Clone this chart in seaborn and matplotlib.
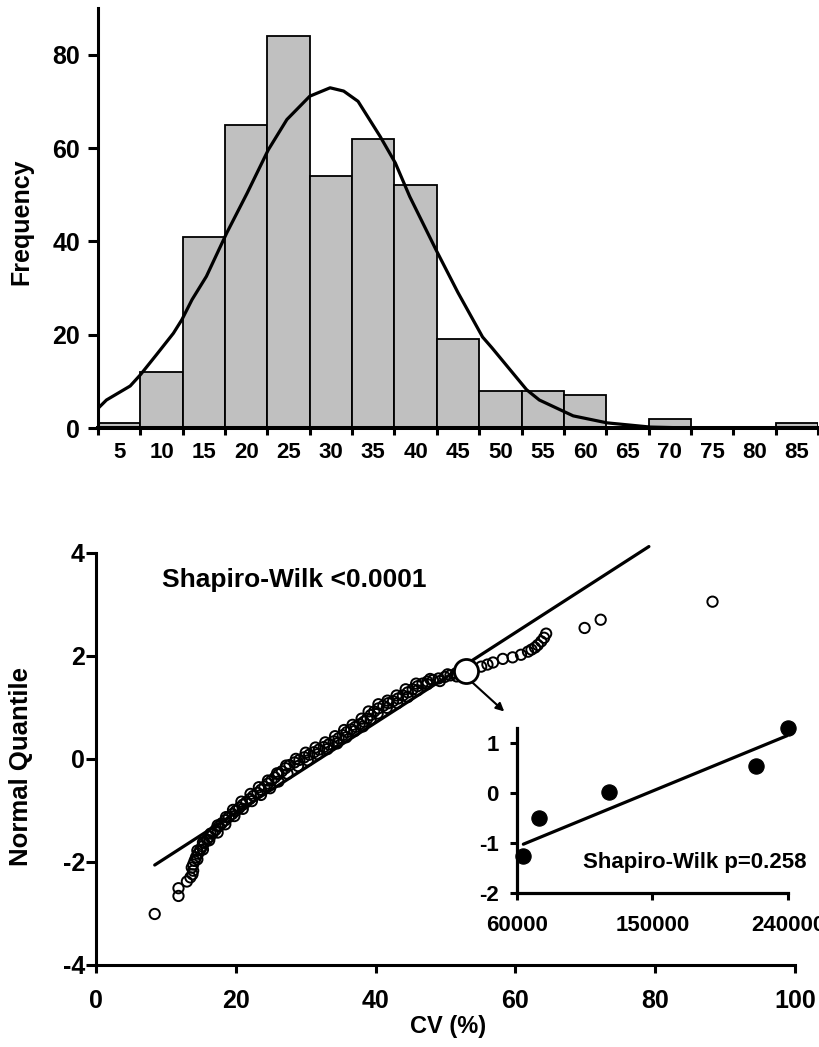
import numpy as np
import seaborn as sns
import matplotlib.pyplot as plt

# histogram of CV (%) - bin labels are the bin centres
bin_labels = [5, 10, 15, 20, 25, 30, 35, 40, 45, 50, 55, 60, 65, 70, 75, 80, 85]
counts = [1, 12, 41, 65, 84, 54, 62, 52, 19, 8, 8, 7, 0, 2, 0, 0, 1]

# fitted normal curve (frequency scale)
curve_x = [2.5, 3.5, 6.3, 7.5, 9.4, 11.4, 12.4, 13.6, 15.3, 17.7, 20.1, 22.6, 24.8,
           27.5, 29.9, 31.5, 33.2, 35.8, 37.6, 39.3, 42.4, 45.0, 47.9, 49.0, 53.1,
           54.6, 58.6, 62.6, 67.7, 72.4]
curve_y = [4.2, 6.0, 9.0, 11.4, 15.7, 20.3, 23.2, 27.5, 32.5, 41.8, 50.3, 59.6, 66.1,
           71.1, 72.9, 72.2, 70.0, 62.5, 56.8, 49.6, 38.2, 29.0, 19.5, 17.2, 8.2,
           6.0, 2.6, 1.1, 0.2, 0.0]

# normal quantile plot of CV (%)
qq_cv = [8.4, 11.8, 11.8, 13.0, 13.5, 13.8, 13.9, 13.7, 13.9, 14.1, 14.3, 14.6, 14.9,
         15.2, 15.5, 15.9, 16.3, 16.7, 17.1, 17.6, 18.0, 18.5, 19.0, 19.5, 20.0, 20.5,
         21.0, 21.5, 22.0, 22.5, 23.1, 23.6, 24.1, 24.6, 25.1, 25.6, 26.1, 26.6, 27.1,
         27.7, 28.4, 29.1, 29.8, 30.5, 31.2, 31.9, 32.6, 33.3, 34.0, 34.7, 35.3, 35.9,
         36.5, 37.1, 37.7, 38.3, 38.8, 39.3, 39.8, 40.4, 41.1, 41.8, 42.5, 43.2, 43.9,
         44.6, 45.3, 46.0, 46.7, 47.4, 48.2, 49.0, 49.9, 50.7, 51.5,
         55.1, 56.0, 56.8, 58.2, 59.6, 60.8, 61.8, 62.3, 62.8, 63.2, 63.7, 64.1, 64.4,
         69.9, 72.2, 88.2,
         14.5, 14.5, 15.3, 15.3, 16.2, 16.4, 17.4, 17.4, 18.5, 18.6, 19.8, 19.6, 21.0,
         20.8, 22.3, 22.1, 23.6, 23.3, 24.9, 24.6, 26.1, 25.9, 27.4, 27.2, 28.9, 28.6,
         30.3, 30.0, 31.7, 31.4, 33.1, 32.8, 34.5, 34.2, 35.8, 35.5, 37.0, 36.7, 38.2,
         38.0, 39.3, 39.0, 40.3, 40.4, 41.6, 41.7, 43.1, 43.0, 44.6, 44.3, 46.0, 45.8,
         47.4, 47.8, 49.2, 50.3, 51.6]
qq_q = [-3.01, -2.66, -2.51, -2.38, -2.30, -2.24, -2.17, -2.11, -2.05, -1.98, -1.91,
        -1.84, -1.77, -1.70, -1.63, -1.57, -1.51, -1.44, -1.38, -1.31, -1.25, -1.19,
        -1.13, -1.07, -1.01, -0.95, -0.89, -0.84, -0.78, -0.72, -0.66, -0.60, -0.54,
        -0.48, -0.42, -0.36, -0.30, -0.24, -0.18, -0.12, -0.07, -0.02, 0.03, 0.08,
        0.13, 0.18, 0.23, 0.28, 0.34, 0.40, 0.46, 0.52, 0.57, 0.62, 0.67, 0.72, 0.78,
        0.85, 0.92, 0.98, 1.03, 1.08, 1.12, 1.17, 1.23, 1.29, 1.35, 1.41, 1.46, 1.50,
        1.53, 1.56, 1.59, 1.62, 1.66,
        1.79, 1.83, 1.87, 1.94, 1.97, 2.02, 2.08, 2.12, 2.16, 2.21, 2.28, 2.35, 2.43,
        2.54, 2.70, 3.05,
        -1.95, -1.78, -1.76, -1.62, -1.58, -1.45, -1.43, -1.29, -1.27, -1.13, -1.11,
        -0.99, -0.97, -0.83, -0.82, -0.68, -0.70, -0.55, -0.57, -0.42, -0.44, -0.28,
        -0.29, -0.13, -0.14, 0.00, -0.03, 0.12, 0.09, 0.22, 0.19, 0.32, 0.30, 0.44,
        0.42, 0.56, 0.54, 0.66, 0.63, 0.78, 0.77, 0.92, 0.88, 1.06, 0.99, 1.13, 1.08,
        1.23, 1.20, 1.35, 1.33, 1.46, 1.45, 1.55, 1.51, 1.64, 1.60]
big_cv = [52.9]
big_q = [1.70]
fit_cv = [8.4, 79.1]
fit_q = [-2.06, 4.12]

# inset: five points
ins_x = [64400, 75000, 121400, 218600, 240000]
ins_y = [-1.27, -0.51, 0.02, 0.53, 1.29]
ins_fit_x = [64400, 240000]
ins_fit_y = [-1.03, 1.15]

sns.set_style('ticks')
plt.rcParams['font.family'] = ['Liberation Sans', 'DejaVu Sans']
plt.rcParams['font.weight'] = 'bold'
plt.rcParams['axes.labelweight'] = 'bold'
plt.rcParams['axes.unicode_minus'] = False
for k in ['text.color', 'axes.labelcolor', 'xtick.color', 'ytick.color', 'axes.edgecolor']:
    plt.rcParams[k] = 'black'

fig = plt.figure(figsize=(8.2, 10.47), dpi=100)
W, H = 820, 1047

# ---------- histogram ----------
ax1 = fig.add_axes([98 / W, (H - 428) / H, 720 / W, 420 / H])
edges = [c - 2.5 for c in bin_labels] + [bin_labels[-1] + 2.5]
sns.histplot(x=bin_labels, weights=counts, bins=edges, color='#c0c0c0',
             edgecolor='black', linewidth=1.3, alpha=1, ax=ax1)
sns.lineplot(x=curve_x, y=curve_y, color='black', linewidth=2.3, ax=ax1)
ax1.set_xlim(2.5, 87.5)
ax1.set_ylim(0, 90)
ax1.set_yticks([0, 20, 40, 60, 80])
ax1.set_xticks(edges)
ax1.set_xticklabels([])
ax1.set_xticks(bin_labels, minor=True)
ax1.set_xticklabels([str(v) for v in bin_labels], minor=True)
ax1.tick_params(axis='x', which='major', length=5, width=2.2, direction='out')
ax1.tick_params(axis='x', which='minor', length=0, pad=10, labelsize=16)
ax1.tick_params(axis='y', length=7, width=2.2, pad=6, labelsize=18)
ax1.set_xlabel('')
ax1.set_ylabel('Frequency', fontsize=18)
ax1.yaxis.set_label_coords(-0.09, 0.49)
ax1.spines['left'].set_linewidth(2.2)
ax1.spines['bottom'].set_linewidth(2.9)
sns.despine(ax=ax1)

# ---------- normal quantile plot ----------
ax2 = fig.add_axes([96 / W, 82 / H, 699 / W, 420 / H])
sns.scatterplot(x=qq_cv, y=qq_q, marker='o', s=55, facecolor='none',
                edgecolor='black', linewidth=1.4, ax=ax2)
sns.lineplot(x=fit_cv, y=fit_q, color='black', linewidth=2.3, ax=ax2)
sns.scatterplot(x=big_cv, y=big_q, marker='o', s=300, facecolor='white',
                edgecolor='black', linewidth=2.0, zorder=5, ax=ax2)
ax2.annotate('', xy=(58.4, 0.92), xytext=(53.7, 1.50),
             arrowprops=dict(arrowstyle='-|>', color='black', lw=1.5,
                             mutation_scale=12, shrinkA=0, shrinkB=0))
ax2.text(9.5, 3.48, 'Shapiro-Wilk <0.0001', fontsize=19, fontweight='bold',
         ha='left', va='center')
ax2.set_xlim(0, 100)
ax2.set_ylim(-4, 4.15)
ax2.set_xticks([0, 20, 40, 60, 80, 100])
ax2.set_yticks([-4, -2, 0, 2, 4])
ax2.spines['left'].set_bounds(-4, 4)
ax2.tick_params(axis='x', length=6, width=2.2, pad=11, labelsize=18)
ax2.tick_params(axis='y', length=7, width=2.2, pad=1, labelsize=18)
ax2.set_xlabel('CV (%)', fontsize=17)
ax2.set_ylabel('Normal Quantile', fontsize=18.5)
ax2.xaxis.set_label_coords(0.504, -0.12)
ax2.yaxis.set_label_coords(-0.09, 0.472)
ax2.spines['left'].set_linewidth(2.2)
ax2.spines['bottom'].set_linewidth(2.2)
sns.despine(ax=ax2)

# ---------- inset ----------
ax3 = fig.add_axes([516.7 / W, (H - 892.7) / H, 271.6 / W, 165 / H])
ax3.set_facecolor('none')
sns.lineplot(x=ins_fit_x, y=ins_fit_y, color='black', linewidth=2.3, ax=ax3)
sns.scatterplot(x=ins_x, y=ins_y, marker='o', s=120, color='black',
                edgecolor='black', clip_on=False, zorder=5, ax=ax3)
ax3.text(178000, -1.39, 'Shapiro-Wilk p=0.258', fontsize=16, fontweight='bold',
         ha='center', va='center')
ax3.set_xlim(60000, 240000)
ax3.set_ylim(-2, 1.3)
ax3.set_xticks([60000, 150000, 240000])
ax3.set_xticklabels(['60000', '150000', '240000'])
ax3.set_yticks([-2, -1, 0, 1])
ax3.tick_params(axis='x', length=5, width=2.2, pad=11, labelsize=16)
ax3.tick_params(axis='y', length=5, width=2.2, pad=8, labelsize=16)
ax3.spines['left'].set_linewidth(2.3)
ax3.spines['bottom'].set_linewidth(2.3)
sns.despine(ax=ax3)

fig.savefig('out.png', dpi=100)
